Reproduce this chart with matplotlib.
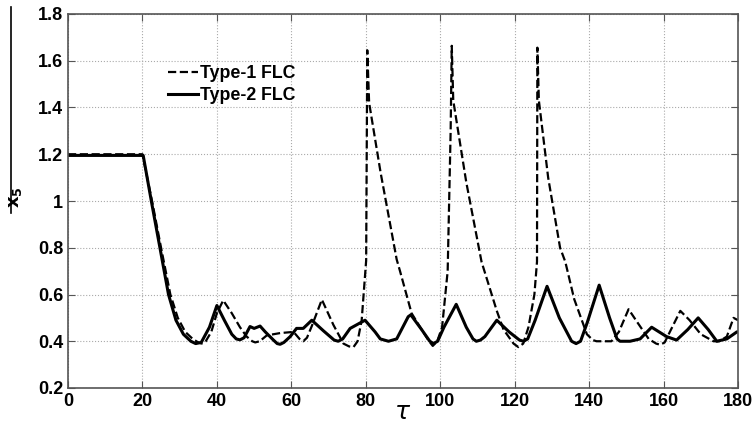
import numpy as np
import matplotlib.pyplot as plt
from matplotlib.lines import Line2D

plt.rcParams['font.family'] = ['Liberation Sans', 'DejaVu Sans']

# Type-1 FLC (dashed)
t1 = [0, 20, 22.7, 25, 27.5, 29.5, 31.5, 33.5, 35, 35.9, 37, 38.5, 40, 41.7, 44, 46.2, 48, 49.5, 50.3, 51.5,
      53.4, 57, 60.6, 62.2, 63.2, 64.2, 65.5, 68.2, 71.3, 74, 75.5, 76.7, 77.8, 78.9, 80.1, 80.4, 80.9, 84,
      88.3, 89.2, 92.3, 95, 97, 98, 99.2, 100.5, 102, 102.8, 103.1, 103.5, 107, 111.1, 115.2, 117, 119.7,
      121, 122.3, 123.7, 125.3, 126, 126.1, 126.5, 129, 132.2, 133.6, 136, 139.4, 141, 142, 146, 148, 150.6,
      153, 156, 158, 159.1, 160.3, 162, 164.5, 167, 170, 173.4, 175, 177, 178.8, 180]
x1 = [1.2, 1.2, 0.99, 0.8, 0.6, 0.5, 0.44, 0.41, 0.395, 0.39, 0.40, 0.44, 0.52, 0.575, 0.52, 0.46, 0.42, 0.40,
      0.395, 0.40, 0.425, 0.435, 0.44, 0.41, 0.40, 0.415, 0.465, 0.578, 0.47, 0.39, 0.378, 0.375, 0.40, 0.49,
      0.745, 1.645, 1.42, 1.12, 0.75, 0.70, 0.52, 0.45, 0.40, 0.38, 0.40, 0.46, 0.70, 1.30, 1.664, 1.43,
      1.08, 0.74, 0.53, 0.45, 0.39, 0.375, 0.39, 0.46, 0.60, 0.74, 1.656, 1.43, 1.10, 0.80, 0.74, 0.58, 0.43,
      0.405, 0.40, 0.40, 0.44, 0.537, 0.48, 0.41, 0.39, 0.385, 0.395, 0.45, 0.53, 0.49, 0.43, 0.40, 0.40,
      0.42, 0.50, 0.49]

# Type-2 FLC (solid)
t2 = [0, 20, 20.2, 22.5, 24.7, 27, 29, 31, 33, 34.3, 35.8, 38, 40, 42, 44, 45.2, 46.2, 47.3, 48.9, 50, 51.6,
      53, 55.2, 56.2, 57, 58, 59.7, 61.4, 63.2, 65.5, 68.6, 71.5, 72.6, 73.8, 75.8, 79.8, 82.5, 83.9, 86.1,
      88.3, 91.4, 92.1, 95, 97.2, 98.2, 99.3, 101, 104.3, 107, 108.8, 109.7, 110.8, 112, 115.2, 118.5, 121.3,
      122.4, 123.5, 125.5, 128.7, 132, 135.3, 136.5, 137.7, 139.5, 142.7, 145.5, 147.5, 148.3, 151, 153.7,
      156.8, 160.8, 163.5, 166.5, 169.3, 172, 174.3, 177, 179.7, 180]
x2 = [1.195, 1.195, 1.195, 0.99, 0.8, 0.6, 0.49, 0.43, 0.40, 0.39, 0.395, 0.46, 0.553, 0.49, 0.43, 0.41, 0.406,
      0.415, 0.463, 0.455, 0.465, 0.44, 0.405, 0.39, 0.387, 0.395, 0.42, 0.455, 0.455, 0.49, 0.445, 0.405,
      0.40, 0.41, 0.455, 0.49, 0.44, 0.41, 0.40, 0.41, 0.505, 0.513, 0.45, 0.40, 0.39, 0.40, 0.46, 0.558,
      0.46, 0.41, 0.40, 0.405, 0.42, 0.49, 0.44, 0.405, 0.40, 0.41, 0.49, 0.635, 0.50, 0.40, 0.39, 0.40, 0.48,
      0.64, 0.50, 0.41, 0.40, 0.40, 0.41, 0.46, 0.42, 0.405, 0.45, 0.50, 0.45, 0.40, 0.41, 0.44, 0.44]

fig = plt.figure(figsize=(7.54, 4.25), dpi=100)
ax = fig.add_axes([68 / 754, 1 - 388 / 425, 670 / 754, 374 / 425])

ax.plot(t1, x1, '--', color='black', lw=1.6, label='Type-1 FLC')
ax.plot(t2, x2, '-', color='black', lw=2.2, label='Type-2 FLC')

ax.set_xlim(0, 180)
ax.set_ylim(0.2, 1.8)
ax.set_xticks(np.arange(0, 181, 20))
ax.set_yticks(np.arange(0.2, 1.81, 0.2))
ax.set_yticklabels(['0.2', '0.4', '0.6', '0.8', '1', '1.2', '1.4', '1.6', '1.8'])
ax.grid(True, linestyle=':', color='#aaaaaa', lw=0.8)
ax.tick_params(direction='in', top=True, right=True, labelsize=13, length=5, color='#555555')
for lab in ax.get_xticklabels() + ax.get_yticklabels():
    lab.set_fontweight('bold')
for s in ax.spines.values():
    s.set_color('#555555')
    s.set_linewidth(1.2)

ax.set_xlabel(r'$\tau$', fontsize=18, labelpad=-7)
fig.text(16 / 754, 1 - 197 / 425, r'$\mathbf{x_5}$', rotation=90, fontsize=13,
         ha='center', va='center')
fig.add_artist(Line2D([11 / 754, 11 / 754], [1 - 7 / 425, 1 - 213 / 425], color='black', lw=1.2))

leg = ax.legend(loc='upper left', bbox_to_anchor=(91 / 670, 1 - 42.5 / 374), frameon=False,
                prop={'weight': 'bold', 'size': 12.8}, handlelength=1.7, handletextpad=0.1,
                labelspacing=0.25, borderpad=0)

fig.savefig('out.png', dpi=100)
